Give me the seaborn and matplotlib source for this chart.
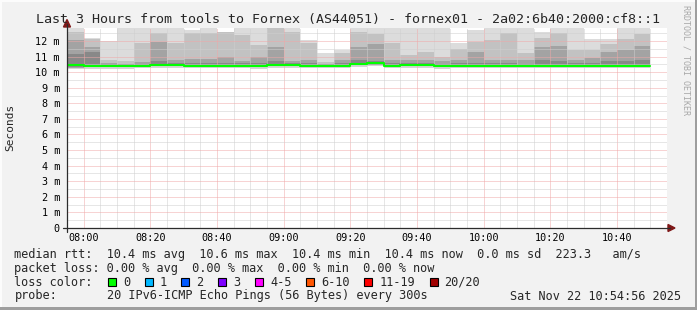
import matplotlib
matplotlib.use("Agg")
import numpy as np
import pandas as pd
import matplotlib.pyplot as plt
import seaborn as sns
from matplotlib.patches import Rectangle, Polygon
from matplotlib.lines import Line2D

# ---------------- data (5-minute slots, ms) ----------------
slot_start = ["07:55", "08:00", "08:05", "08:10", "08:15", "08:20", "08:25",
              "08:30", "08:35", "08:40", "08:45", "08:50", "08:55", "09:00",
              "09:05", "09:10", "09:15", "09:20", "09:25", "09:30", "09:35",
              "09:40", "09:45", "09:50", "09:55", "10:00", "10:05", "10:10",
              "10:15", "10:20", "10:25", "10:30", "10:35", "10:40", "10:45"]
median_ms = [10.47, 10.38, 10.38, 10.40, 10.40, 10.45, 10.45, 10.42, 10.42, 10.42,
             10.42, 10.38, 10.45, 10.47, 10.42, 10.42, 10.42, 10.52, 10.60, 10.42,
             10.43, 10.45, 10.40, 10.38, 10.38, 10.38, 10.38, 10.42, 10.42, 10.42,
             10.40, 10.40, 10.42, 10.40, 10.40]
max_ms = [12.85, 12.20, 12.00, 12.85, 12.85, 12.85, 12.85, 12.70, 12.85, 12.60,
          12.85, 12.85, 12.85, 12.85, 12.05, 11.20, 11.40, 12.85, 12.85, 12.85,
          12.85, 12.85, 12.85, 11.90, 12.70, 12.85, 12.85, 12.85, 12.60, 12.85,
          12.85, 12.10, 12.10, 12.85, 12.85]
band1_ms = [12.60, 12.10, 10.75, 10.70, 11.84, 12.50, 11.85, 12.50, 12.50, 12.55,
            12.40, 11.75, 12.80, 12.60, 11.85, 10.65, 11.20, 12.60, 12.45, 11.85,
            11.10, 11.30, 10.95, 11.50, 11.95, 12.05, 12.50, 11.20, 12.20, 12.50,
            11.40, 11.40, 11.80, 12.15, 12.45]
band2_ms = [12.05, 11.60, 10.60, 10.55, 10.65, 11.95, 10.80, 10.85, 10.85, 11.00,
            10.70, 11.00, 11.60, 10.70, 10.75, 10.55, 10.80, 11.60, 11.80, 10.80,
            10.80, 10.80, 10.70, 10.80, 11.30, 10.80, 10.80, 10.80, 11.60, 11.70,
            10.80, 10.90, 11.30, 11.45, 11.70]
band3_ms = [11.15, 11.30, 10.50, 10.50, 10.55, 10.70, 10.60, 10.60, 10.60, 10.60,
            10.60, 10.60, 10.70, 10.60, 10.60, 10.50, 10.60, 10.80, 10.70, 10.60,
            10.60, 10.60, 10.55, 10.60, 10.60, 10.60, 10.60, 10.55, 10.80, 10.70,
            10.60, 10.60, 10.70, 10.70, 10.80]
min_ms = [10.20, 10.25, 10.25, 10.25, 10.30, 10.30, 10.30, 10.30, 10.30, 10.30,
          10.30, 10.25, 10.30, 10.30, 10.30, 10.30, 10.30, 10.35, 10.40, 10.30,
          10.30, 10.30, 10.25, 10.30, 10.30, 10.30, 10.30, 10.30, 10.30, 10.30,
          10.30, 10.30, 10.30, 10.30, 10.30]

x_tick_labels = ["08:00", "08:20", "08:40", "09:00", "09:20", "09:40",
                 "10:00", "10:20", "10:40"]
y_tick_values = list(range(0, 13))
y_tick_labels = ["0"] + [f"{v} m" for v in range(1, 13)]

title = "Last 3 Hours from tools to Fornex (AS44051) - fornex01 - 2a02:6b40:2000:cf8::1"
legend_median = "median rtt:  10.4 ms avg  10.6 ms max  10.4 ms min  10.4 ms now  0.0 ms sd  223.3   am/s"
legend_loss = "packet loss: 0.00 % avg  0.00 % max  0.00 % min  0.00 % now"
loss_labels = ["0", "1", "2", "3", "4-5", "6-10", "11-19", "20/20"]
loss_colors = ["#00ff00", "#00b8ff", "#0059ff", "#7e00ff", "#ff00ff",
               "#ff5500", "#ff0000", "#a10000"]
probe_text = "20 IPv6-ICMP Echo Pings (56 Bytes) every 300s"
date_text = "Sat Nov 22 10:54:56 2025"

# ---------------- setup ----------------
sns.set_style("white")
MONO = ["DejaVu Sans Mono"]
plt.rcParams["font.family"] = MONO

W, H = 697, 310
BG = "#f2f2f2"
fig = plt.figure(figsize=(W / 100, H / 100), dpi=100, facecolor=BG)

def fx(px):
    return px / W

def fy(py):
    return 1 - py / H

left, right, top, bottom = 67, 667, 27.7, 228
ax = fig.add_axes([fx(left), fy(bottom), (right - left) / W, (bottom - top) / H])
ax.set_facecolor("white")

def to_min(s):
    h, m = s.split(":")
    return int(h) * 60 + int(m) - (7 * 60 + 55)

xs = np.array([to_min(s) for s in slot_start], dtype=float)
slot_w = 5.0
df = pd.DataFrame({"x": xs, "median": median_ms, "max": max_ms, "b1": band1_ms,
                   "b2": band2_ms, "b3": band3_ms, "min": min_ms})

# smoke bands
ax.bar(df["x"], df["max"] - df["min"], bottom=df["min"], width=slot_w, align="edge",
       color="#dcdcdc", linewidth=0, zorder=1)
ax.bar(df["x"], df["b1"] - df["min"], bottom=df["min"], width=slot_w, align="edge",
       color="#c2c2c2", linewidth=0, zorder=1.1)
ax.bar(df["x"], df["b2"] - df["min"], bottom=df["min"], width=slot_w, align="edge",
       color="#a3a3a3", linewidth=0, zorder=1.2)
lo3 = df["median"] - 0.12
ax.bar(df["x"], df["b3"] - lo3, bottom=lo3, width=slot_w, align="edge",
       color="#888888", linewidth=0, zorder=1.3)
lo4 = df["median"] - 0.1
ax.bar(df["x"], 0.15, bottom=lo4, width=slot_w, align="edge",
       color="#555555", linewidth=0, zorder=1.4)
ax.bar(df["x"], 0.1, bottom=df["min"] - 0.02, width=slot_w, align="edge",
       color="#d4d4d4", linewidth=0, zorder=1.4)

# median line (step)
step = pd.DataFrame({"x": list(xs) + [xs[-1] + slot_w],
                     "y": list(median_ms) + [median_ms[-1]]})
sns.lineplot(data=step, x="x", y="y", drawstyle="steps-post", color="#00ff00",
             linewidth=1.5, ax=ax, zorder=4, estimator=None, sort=False)

ax.set_xlim(0, 180)
ax.set_ylim(0, 12.85)

# ticks and grid
major_x = [to_min(s) for s in x_tick_labels]
ax.set_xticks(major_x)
ax.set_xticklabels(x_tick_labels)
ax.set_xticks(np.arange(0, 181, 5), minor=True)
ax.set_yticks(y_tick_values)
ax.set_yticklabels(y_tick_labels)
ax.set_yticks(np.arange(0.5, 12.85, 0.5), minor=True)
ax.set_xlabel("")
ax.set_ylabel("")

ax.set_axisbelow(False)
dot = (0, (1, 1))
ax.grid(which="minor", color="#cfcfcf", linestyle=dot, linewidth=0.72, zorder=2.5,
        snap=True)
ax.grid(which="major", color="#f0a8a8", linestyle=dot, linewidth=0.72, zorder=2.6,
        snap=True)
ax.tick_params(axis="both", which="major", length=2.5, width=0.72, color="#e89090",
               labelsize=7.3, labelcolor="black", direction="out")
ax.tick_params(axis="x", which="major", pad=1.2)
ax.tick_params(axis="y", which="major", pad=2.6)
ax.tick_params(axis="both", which="minor", length=1.5, width=0.72, color="#b8b8b8",
               direction="out")
for sp in ax.spines.values():
    sp.set_visible(False)

# axis lines with arrows
axis_col = "#2c2c2c"
arrow_col = "#7f1818"
fig.add_artist(Line2D([fx(63), fx(670)], [fy(bottom), fy(bottom)], color=axis_col,
                      linewidth=0.9))
fig.add_artist(Line2D([fx(left), fx(left)], [fy(232), fy(24)], color=axis_col,
                      linewidth=0.9))
fig.add_artist(Polygon([[fx(668), fy(bottom - 3.5)], [fx(675), fy(bottom)],
                        [fx(668), fy(bottom + 3.5)]], closed=True, color=arrow_col,
                       transform=fig.transFigure))
fig.add_artist(Polygon([[fx(left - 3.5), fy(27)], [fx(left), fy(19.5)],
                        [fx(left + 3.5), fy(27)]], closed=True, color=arrow_col,
                       transform=fig.transFigure))

# title and labels
fig.text(fx(348), fy(19.3), title, ha="center", va="center", fontsize=9.6,
         family=MONO)
fig.text(fx(10), fy(127), "Seconds", ha="center", va="center", rotation=90,
         fontsize=8, family=MONO)
fig.text(fx(686), fy(60), "RRDTOOL / TOBI OETIKER", ha="center", va="center",
         rotation=270, fontsize=6, color="#a8a8a8", family=MONO)

# legend block
LX = 14.5
LFS = 8.55
CW = 7.15
fig.text(fx(LX), fy(254.3), legend_median, ha="left", va="center", fontsize=LFS,
         family=MONO)
fig.text(fx(LX), fy(268.3), legend_loss, ha="left", va="center", fontsize=LFS,
         family=MONO)
fig.text(fx(LX), fy(282.3), "loss color:", ha="left", va="center", fontsize=LFS,
         family=MONO)
bx = 108.0
for lab, col in zip(loss_labels, loss_colors):
    fig.add_artist(Rectangle((fx(bx), fy(286.3)), 8 / W, 8 / H, facecolor=col,
                             edgecolor="black", linewidth=0.8,
                             transform=fig.transFigure))
    fig.text(fx(bx + 15), fy(282.3), lab, ha="left", va="center", fontsize=LFS,
             family=MONO)
    bx = bx + 15 + len(lab) * CW + 14.6
fig.text(fx(LX), fy(296), "probe:", ha="left", va="center", fontsize=LFS,
         family=MONO)
fig.text(fx(LX + 13 * CW), fy(296), probe_text, ha="left", va="center",
         fontsize=LFS, family=MONO)
fig.text(fx(681), fy(296), date_text, ha="right", va="center", fontsize=LFS,
         family=MONO)

# frame
fig.add_artist(Rectangle((0, fy(2)), 1, 2 / H, facecolor="#fcfcfc", edgecolor="none",
                         transform=fig.transFigure))
fig.add_artist(Rectangle((0, 0), 2 / W, 1, facecolor="#fcfcfc", edgecolor="none",
                         transform=fig.transFigure))
fig.add_artist(Rectangle((0, 0), 1, 3 / H, facecolor="#9e9e9e", edgecolor="none",
                         transform=fig.transFigure))
fig.add_artist(Rectangle((fx(W - 2), 0), 2 / W, 1, facecolor="#9e9e9e",
                         edgecolor="none", transform=fig.transFigure))

fig.savefig("out.png", dpi=100, facecolor=BG)
